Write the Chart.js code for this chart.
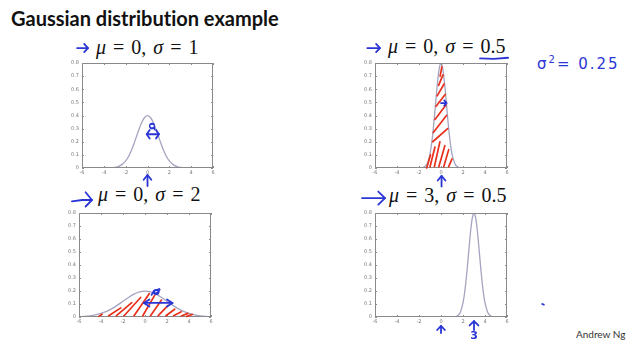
<!DOCTYPE html>
<html>
<head>
<meta charset="utf-8">
<script src="https://cdn.jsdelivr.net/npm/chart.js@4.4.1/dist/chart.umd.min.js"></script>
<style>
  html, body { margin: 0; padding: 0; background: #fff; }
  body { width: 628px; height: 343px; position: relative; overflow: hidden; }
  .box { position: absolute; }
  .txt { position: absolute; white-space: pre; }
  .main { font-family: Lato, sans-serif; font-weight: 700; font-size: 20px; line-height: 20px; color: #111; font-variant-ligatures: none; }
  .math { font-family: 'Liberation Serif', serif; font-size: 20px; line-height: 20px; color: #111; word-spacing: 2px; }
  .math i { font-style: italic; }
  .ink { font-family: 'DejaVu Sans', sans-serif; color: #2a35d6; font-size: 15px; line-height: 16px; letter-spacing: 2px; }
  .sig { font-family: Lato, sans-serif; font-size: 10px; line-height: 12px; color: #333; }
</style>
</head>
<body>

<div class="txt main" style="left:11px;top:8px">Gaussian distribution example</div>
<div class="txt math" style="left:96px;top:37px"><i>μ</i> = 0, <i>σ</i> = 1</div>
<div class="txt math" style="left:388px;top:36px"><i>μ</i> = 0, <i>σ</i> = 0.5</div>
<div class="txt math" style="left:98px;top:184px"><i>μ</i> = 0, <i>σ</i> = 2</div>
<div class="txt math" style="left:389px;top:185px"><i>μ</i> = 3, <i>σ</i> = 0.5</div>
<div class="txt ink" style="left:537px;top:52px">σ<sup style="font-size:10px">2</sup>= 0.25</div>
<div class="txt sig" style="left:576px;top:328px">Andrew Ng</div>

<div class="box" id="b1"><canvas id="c1"></canvas></div>
<div class="box" id="b2"><canvas id="c2"></canvas></div>
<div class="box" id="b3"><canvas id="c3"></canvas></div>
<div class="box" id="b4"><canvas id="c4"></canvas></div>

<script>
// --- Curve data ---
const x1 = [-6, -5, -4, -3.5, -3, -2.75, -2.5, -2.25, -2, -1.75, -1.5, -1.25, -1, -0.75, -0.5, -0.25,
  0, 0.25, 0.5, 0.75, 1, 1.25, 1.5, 1.75, 2, 2.25, 2.5, 2.75, 3, 3.5, 4, 5, 6];
const y1 = [0, 0, 0.0001, 0.001, 0.004, 0.009, 0.018, 0.032, 0.054, 0.086, 0.130, 0.183, 0.242, 0.301, 0.352, 0.387,
  0.399, 0.387, 0.352, 0.301, 0.242, 0.183, 0.130, 0.086, 0.054, 0.032, 0.018, 0.009, 0.004, 0.001, 0.0001, 0, 0];

const x2 = [-4, -3, -2, -1.75, -1.5, -1.25, -1, -0.875, -0.75, -0.625, -0.5, -0.375, -0.25, -0.125,
  0, 0.125, 0.25, 0.375, 0.5, 0.625, 0.75, 0.875, 1, 1.25, 1.5, 1.75, 2, 3, 4];
const y2 = [0, 0, 0.0003, 0.0017, 0.009, 0.035, 0.108, 0.173, 0.259, 0.365, 0.484, 0.602, 0.704, 0.773,
  0.798, 0.773, 0.704, 0.602, 0.484, 0.365, 0.259, 0.173, 0.108, 0.035, 0.009, 0.0017, 0.0003, 0, 0];

const x3 = [-6, -5.5, -5, -4.5, -4, -3.5, -3, -2.5, -2, -1.5, -1, -0.5,
  0, 0.5, 1, 1.5, 2, 2.5, 3, 3.5, 4, 4.5, 5, 5.5, 6];
const y3 = [0.0022, 0.0045, 0.0088, 0.0159, 0.027, 0.0431, 0.0648, 0.0913, 0.121, 0.1506, 0.176, 0.1933,
  0.1995, 0.1933, 0.176, 0.1506, 0.121, 0.0913, 0.0648, 0.0431, 0.027, 0.0159, 0.0088, 0.0045, 0.0022];

const x4 = [-1, 0, 1, 1.25, 1.5, 1.75, 2, 2.125, 2.25, 2.375, 2.5, 2.625, 2.75, 2.875,
  3, 3.125, 3.25, 3.375, 3.5, 3.625, 3.75, 3.875, 4, 4.25, 4.5, 4.75, 5, 6];
const y4 = [0, 0, 0.0003, 0.0017, 0.009, 0.035, 0.108, 0.173, 0.259, 0.365, 0.484, 0.602, 0.704, 0.773,
  0.798, 0.773, 0.704, 0.602, 0.484, 0.365, 0.259, 0.173, 0.108, 0.035, 0.009, 0.0017, 0.0003, 0];

// --- Axis ticks ---
const xTicks = [-6, -4, -2, 0, 2, 4, 6];
const yTicks = [0, 0.1, 0.2, 0.3, 0.4, 0.5, 0.6, 0.7, 0.8];

// --- Hand-drawn ink, in data units of each panel ---
const hatch2 = [
  [[-1.3, 0.0], [-0.95, 0.1]], [[-1.0, 0.01], [-0.55, 0.16]], [[-0.6, 0.01], [-0.1, 0.2]],
  [[-0.2, 0.01], [0.35, 0.17]], [[0.25, 0.01], [0.7, 0.14]], [[0.7, 0.01], [1.0, 0.07]],
  [[-0.75, 0.2], [0.6, 0.3]], [[-0.7, 0.27], [0.5, 0.4]], [[-0.55, 0.37], [0.45, 0.48]],
  [[-0.45, 0.47], [0.38, 0.56]], [[-0.35, 0.55], [0.28, 0.64]], [[-0.22, 0.63], [0.18, 0.71]],
  [[-0.08, 0.7], [0.08, 0.77]]
];
const hatch3 = [
  [[-4.2, 0.005], [-3.9, 0.022]], [[-3.3, 0.01], [-2.2, 0.07]], [[-2.6, 0.01], [-1.2, 0.11]],
  [[-1.9, 0.01], [-0.4, 0.15]], [[-1.0, 0.01], [0.4, 0.18]], [[-0.2, 0.01], [0.9, 0.17]],
  [[0.5, 0.01], [1.5, 0.13]], [[1.2, 0.01], [2.1, 0.09]], [[1.9, 0.01], [2.7, 0.06]],
  [[2.6, 0.01], [3.3, 0.04]], [[3.3, 0.008], [3.9, 0.028]], [[3.8, 0.005], [4.3, 0.02]]
];
const blue1 = [
  [[-6.45, 0.914], [-5.45, 0.914]], [[-5.8, 0.945], [-5.45, 0.914], [-5.8, 0.883]],
  [[-0.07, 0.257], [1.05, 0.257]], [[0.2, 0.29], [-0.07, 0.257], [0.2, 0.224]], [[0.78, 0.29], [1.05, 0.257], [0.78, 0.224]],
  [[0, -0.137], [0, -0.053]], [[-0.35, -0.09], [0, -0.053], [0.35, -0.09]]
];
const blue2 = [
  [[-6.7, 0.914], [-5.55, 0.914]], [[-5.9, 0.945], [-5.55, 0.914], [-5.9, 0.883]],
  [[3.55, 0.835], [4.8, 0.832], [6.1, 0.84]],
  [[0, 0.495], [0.5, 0.495]], [[0.3, 0.515], [0.5, 0.495], [0.3, 0.475]],
  [[0.05, -0.14], [0.05, -0.06]], [[-0.3, -0.095], [0.05, -0.06], [0.4, -0.095]]
];
const blue3 = [
  [[-6.64, 0.89], [-5.7, 0.9], [-4.82, 0.9]], [[-5.4, 0.96], [-4.82, 0.9], [-5.4, 0.85]],
  [[-0.1, 0.108], [2.5, 0.108]], [[0.4, 0.135], [-0.1, 0.108], [0.4, 0.08]], [[2.0, 0.135], [2.5, 0.108], [2.0, 0.08]],
  [[0.6, 0.17], [0.8, 0.2], [1.3, 0.215], [1.2, 0.19], [0.9, 0.18]]
];
const blue4 = [
  [[-7.18, 0.915], [-5.09, 0.915]], [[-5.7, 0.965], [-5.09, 0.915], [-5.7, 0.865]],
  [[0, -0.123], [0, -0.069]], [[-0.35, -0.1], [0, -0.069], [0.35, -0.1]],
  [[3, -0.1], [3, -0.031]], [[2.6, -0.065], [3, -0.031], [3.4, -0.065]],
  [[9.2, 0.1], [9.35, 0.095]]
];
const inkText1 = [{ text: 'σ', x: 0.44, y: 0.315, rot: Math.PI / 2 }];
const inkText3 = [{ text: 'σ', x: 1.06, y: 0.195, rot: 0 }];
const inkText4 = [{ text: '3', x: 3, y: -0.15, rot: 0 }];

const RED = '#e8301c';
const BLUE = '#2a35d6';
const CURVE = '#a4a4c0';

// Panel placement: chart area left, top, width, height
const panels = [
  { id: 'c1', box: 'b1', area: [82, 63, 131, 105], xs: x1, ys: y1, hatch: [], blue: blue1, texts: inkText1, padR: 12 },
  { id: 'c2', box: 'b2', area: [375, 63, 132, 105], xs: x2, ys: y2, hatch: hatch2, blue: blue2, texts: [], padR: 12 },
  { id: 'c3', box: 'b3', area: [79, 213, 132, 104], xs: x3, ys: y3, hatch: hatch3, blue: blue3, texts: inkText3, padR: 12 },
  { id: 'c4', box: 'b4', area: [375, 213, 132, 104], xs: x4, ys: y4, hatch: [], blue: blue4, texts: inkText4, padR: 45 }
];

const PAD_L = 30, PAD_T = 40, PAD_B = 28;

/** Frame with inward tick marks, like the MATLAB axes */
const framePlugin = {
  id: 'frame',
  afterDraw(chart) {
    const { ctx, chartArea: a, scales: { x, y } } = chart;
    ctx.save();
    ctx.strokeStyle = '#8a8a8a';
    ctx.lineWidth = 1;
    ctx.strokeRect(a.left + 0.5, a.top + 0.5, a.right - a.left - 1, a.bottom - a.top - 1);
    ctx.beginPath();
    xTicks.forEach((v) => {
      const px = Math.round(x.getPixelForValue(v)) + 0.5;
      ctx.moveTo(px, a.bottom); ctx.lineTo(px, a.bottom - 2);
      ctx.moveTo(px, a.top); ctx.lineTo(px, a.top + 2);
    });
    yTicks.forEach((v) => {
      const py = Math.round(y.getPixelForValue(v)) + 0.5;
      ctx.moveTo(a.left, py); ctx.lineTo(a.left + 2, py);
      ctx.moveTo(a.right, py); ctx.lineTo(a.right - 2, py);
    });
    ctx.stroke();
    ctx.restore();
  }
};

/** Hand-written pen strokes drawn through the chart scales */
const inkPlugin = {
  id: 'ink',
  afterDraw(chart, args, opts) {
    const { ctx, scales: { x, y } } = chart;
    ctx.save();
    ctx.lineCap = 'round';
    ctx.lineJoin = 'round';
    const draw = (list, color, width) => {
      ctx.strokeStyle = color;
      ctx.lineWidth = width;
      list.forEach((pts) => {
        ctx.beginPath();
        pts.forEach(([a, b], i) => {
          const px = x.getPixelForValue(a), py = y.getPixelForValue(b);
          if (i) ctx.lineTo(px, py); else ctx.moveTo(px, py);
        });
        ctx.stroke();
      });
    };
    draw(opts.hatch || [], RED, 1.7);
    draw(opts.blue || [], BLUE, 1.8);
    ctx.fillStyle = BLUE;
    ctx.font = 'bold 11px "DejaVu Sans"';
    ctx.textAlign = 'center';
    ctx.textBaseline = 'middle';
    (opts.texts || []).forEach((t) => {
      ctx.save();
      ctx.translate(x.getPixelForValue(t.x), y.getPixelForValue(t.y));
      ctx.rotate(t.rot);
      ctx.fillText(t.text, 0, 0);
      ctx.restore();
    });
    ctx.restore();
  }
};

panels.forEach((p) => {
  const [L, T, W, H] = p.area;
  const box = document.getElementById(p.box);
  box.style.left = (L - PAD_L) + 'px';
  box.style.top = (T - PAD_T) + 'px';
  box.style.width = (W + PAD_L + p.padR) + 'px';
  box.style.height = (H + PAD_T + PAD_B) + 'px';

  new Chart(document.getElementById(p.id), {
    type: 'line',
    data: {
      datasets: [{
        data: p.xs.map((v, i) => ({ x: v, y: p.ys[i] })),
        borderColor: CURVE,
        borderWidth: 1.3,
        pointRadius: 0,
        cubicInterpolationMode: 'monotone',
        fill: false
      }]
    },
    options: {
      responsive: true,
      maintainAspectRatio: false,
      animation: false,
      events: [],
      layout: { padding: { top: PAD_T, right: p.padR, left: 0, bottom: 0 } },
      plugins: {
        legend: { display: false },
        tooltip: { enabled: false },
        ink: { hatch: p.hatch, blue: p.blue, texts: p.texts }
      },
      scales: {
        x: {
          type: 'linear', min: -6, max: 6,
          afterFit: (s) => { s.height = PAD_B; },
          afterBuildTicks: (s) => { s.ticks = xTicks.map((v) => ({ value: v })); },
          grid: { display: false, drawTicks: false },
          border: { display: false },
          ticks: { color: '#777', font: { size: 5, family: 'DejaVu Sans' }, padding: 2, maxRotation: 0 }
        },
        y: {
          min: 0, max: 0.8,
          afterFit: (s) => { s.width = PAD_L; },
          afterBuildTicks: (s) => { s.ticks = yTicks.map((v) => ({ value: v })); },
          grid: { display: false, drawTicks: false },
          border: { display: false },
          ticks: {
            color: '#777', font: { size: 5, family: 'DejaVu Sans' }, padding: 3,
            callback: (v) => String(+v.toFixed(1))
          }
        }
      }
    },
    plugins: [framePlugin, inkPlugin]
  });
});
</script>
</body>
</html>
